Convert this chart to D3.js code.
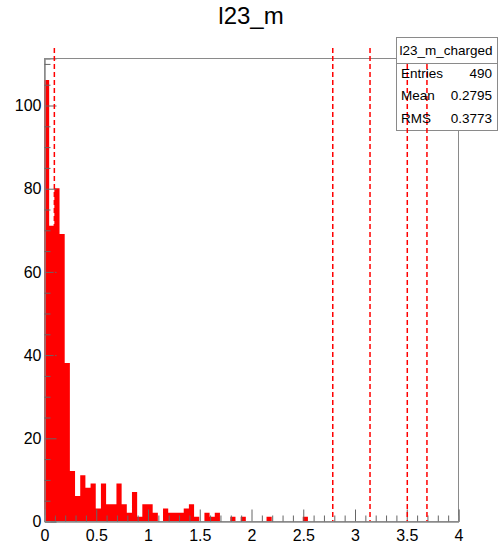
<!DOCTYPE html>
<html>
<head>
<meta charset="utf-8">
<script src="https://cdn.jsdelivr.net/npm/d3@7/dist/d3.min.js"></script>
<style>
  html, body { margin: 0; padding: 0; background: #fff; }
  svg { display: block; font-family: "Liberation Sans", Arial, Helvetica, sans-serif; }
</style>
</head>
<body>
<svg id="chart" width="498" height="547"></svg>
<script>
// Histogram of l23_m (80 bins of width 0.05 over 0..4)
const binLow = 0;
const binHigh = 4;
const binWidth = 0.05;
const binCounts = [
  106, 71, 80, 69, 38, 12, 6, 11, 8, 9,
  3, 9, 4, 4, 9, 4, 2, 7, 1, 4,
  4, 2, 0, 3, 2, 2, 2, 3, 4, 1,
  0, 2, 1, 2, 0, 0, 1, 0, 1, 0,
  0, 0, 0, 1, 0, 0, 0, 0, 0, 0,
  1, 0, 0, 0, 0, 0, 0, 0, 0, 0,
  0, 0, 0, 0, 0, 0, 0, 0, 0, 0,
  0, 0, 0, 0, 0, 0, 0, 0, 0, 0
];
const yMax = 111.3;

// Vertical cut markers
const cutPositions = [0.1, 2.79, 3.15, 3.51, 3.70];
const cutTop = 113.7;

// Axis ticks
const xMajorTicks = [0, 0.5, 1, 1.5, 2, 2.5, 3, 3.5, 4];
const xTickLabels = ["0", "0.5", "1", "1.5", "2", "2.5", "3", "3.5", "4"];
const yMajorTicks = [0, 20, 40, 60, 80, 100];
const yTickLabels = ["0", "20", "40", "60", "80", "100"];

// Statistics box
const statsTitle = "l23_m_charged";
const statsNames = ["Entries", "Mean", "RMS"];
const statsValues = ["490", "0.2795", "0.3773"];
const chartTitle = "l23_m";

const svg = d3.select("#chart");
const frameLeft = 44, frameRight = 458, frameTop = 58, frameBottom = 521;

const x = d3.scaleLinear().domain([binLow, binHigh]).range([frameLeft, frameRight]);
const y = d3.scaleLinear().domain([0, yMax]).range([frameBottom, frameTop]);

// Title
svg.append("text")
  .attr("x", 251).attr("y", 24)
  .attr("text-anchor", "middle")
  .attr("font-size", 24)
  .attr("fill", "#000")
  .text(chartTitle);

// Frame
svg.append("rect")
  .attr("x", frameLeft + 0.5).attr("y", frameTop + 0.5)
  .attr("width", frameRight - frameLeft).attr("height", frameBottom - frameTop)
  .attr("fill", "none").attr("stroke", "#8a8a8a").attr("stroke-width", 1);

// Filled histogram as a step outline
const edges = d3.range(binCounts.length + 1).map(i => ({
  e: binLow + i * binWidth,
  v: binCounts[Math.min(i, binCounts.length - 1)]
}));
const area = d3.area()
  .x(d => x(d.e))
  .y0(y(0))
  .y1(d => y(d.v))
  .curve(d3.curveStepAfter);
svg.append("path")
  .datum(edges)
  .attr("d", area)
  .attr("fill", "#ff0000")
  .attr("stroke", "none");

// X axis (ticks point inward)
const xMinor = d3.range(0, 41).map(i => i / 10).filter(v => Math.abs(v * 2 - Math.round(v * 2)) > 1e-6);
const gx = svg.append("g").attr("transform", `translate(0.5,${frameBottom + 0.5})`);
gx.call(d3.axisBottom(x).tickValues(xMajorTicks).tickSize(-12).tickPadding(8)
  .tickFormat((d, i) => xTickLabels[i]));
gx.append("g").call(d3.axisBottom(x).tickValues(xMinor).tickSize(-6).tickFormat(""));

// Y axis (ticks point inward)
const yMinor = d3.range(0, 112, 5).filter(v => v % 20 !== 0);
const gy = svg.append("g").attr("transform", `translate(${frameLeft + 0.5},0.5)`);
gy.call(d3.axisLeft(y).tickValues(yMajorTicks).tickSize(-12).tickPadding(3)
  .tickFormat((d, i) => yTickLabels[i]));
gy.append("g").call(d3.axisLeft(y).tickValues(yMinor).tickSize(-6).tickFormat(""));

svg.selectAll(".domain").attr("stroke", "#8a8a8a");
svg.selectAll(".tick line").attr("stroke", "#666");
svg.selectAll(".tick text")
  .attr("font-size", 16)
  .attr("fill", "#000")
  .attr("font-family", "Liberation Sans, Arial, sans-serif");

// Statistics box body
const bx = 396.5, bw = 101, by = 37.5, bh = 93, hh = 26;
svg.append("rect")
  .attr("x", bx).attr("y", by).attr("width", bw).attr("height", bh)
  .attr("fill", "#fff").attr("stroke", "#8a8a8a");

// Dashed cut lines
svg.append("g").selectAll("line")
  .data(cutPositions)
  .join("line")
  .attr("x1", d => x(d)).attr("x2", d => x(d))
  .attr("y1", y(cutTop)).attr("y2", y(0))
  .attr("stroke", "#ff0000")
  .attr("stroke-width", 1.5)
  .attr("stroke-dasharray", "5,3");

// Statistics box header
svg.append("rect")
  .attr("x", bx).attr("y", by).attr("width", bw).attr("height", hh)
  .attr("fill", "#fff").attr("stroke", "#8a8a8a");
svg.append("text")
  .attr("x", bx + bw / 2 - 1).attr("y", by + 17)
  .attr("text-anchor", "middle")
  .attr("font-size", 13.5)
  .text(statsTitle);

const rowY = [78, 100, 123];
svg.append("g").selectAll("text.name")
  .data(statsNames)
  .join("text")
  .attr("class", "name")
  .attr("x", 401).attr("y", (d, i) => rowY[i])
  .attr("font-size", 13.5)
  .text(d => d);
svg.append("g").selectAll("text.val")
  .data(statsValues)
  .join("text")
  .attr("class", "val")
  .attr("x", 492).attr("y", (d, i) => rowY[i])
  .attr("text-anchor", "end")
  .attr("font-size", 13.5)
  .text(d => d);
</script>
</body>
</html>
